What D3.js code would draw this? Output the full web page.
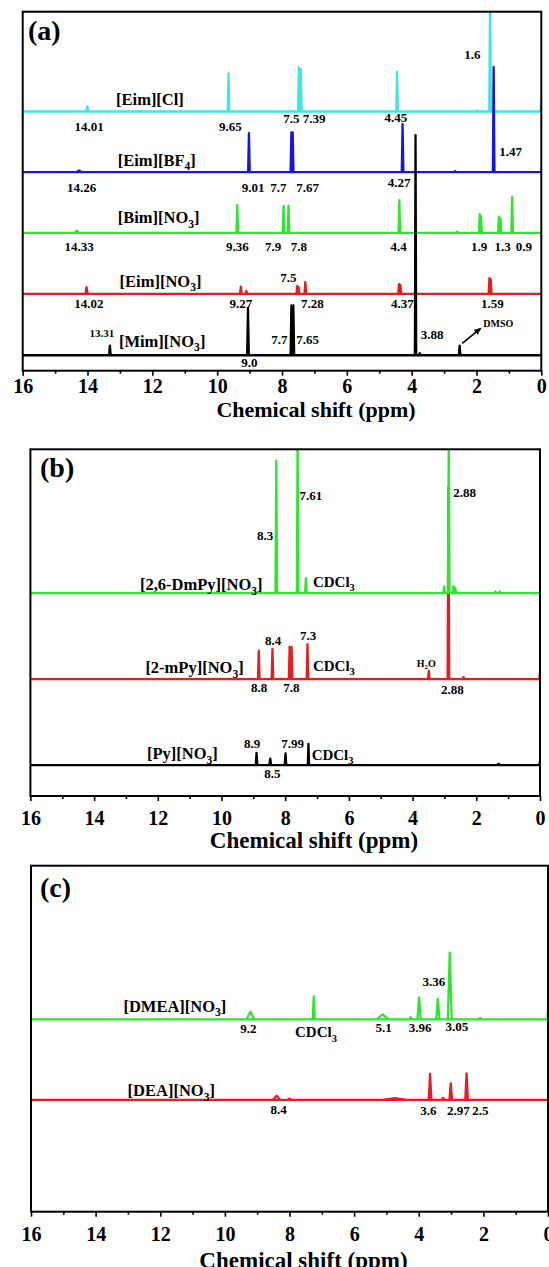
<!DOCTYPE html>
<html><head><meta charset="utf-8">
<script src="https://cdn.jsdelivr.net/npm/d3@7"></script>
<style>
html,body{margin:0;padding:0;background:#fff;}
svg{display:block;}
text{font-family:"Liberation Serif","Times New Roman",serif !important;font-weight:bold;}
</style>
</head><body>
<svg id="chart" width="549" height="1267"></svg>
<script>
// ---------- data ----------
const ppmDomain = [16, 0];
const majorTicks = [16, 14, 12, 10, 8, 6, 4, 2, 0];
const tickLabels = ["16", "14", "12", "10", "8", "6", "4", "2", "0"];
const minorTicks = [15, 13, 11, 9, 7, 5, 3, 1];
const axisTitle = "Chemical shift (ppm)";
const panelTags = ["(a)", "(b)", "(c)"];

// panel (a): [ppm, intensity, half-width(ppm)]
const seriesA = ["[Eim][Cl]", "[Eim][BF_4]", "[Bim][NO_3]", "[Eim][NO_3]", "[Mim][NO_3]"];
const offsetsA = [72.2, 55.3, 38.4, 21.4, 4.3];
const peaksEimCl = [[14.01,1.4,0.04],[9.65,10.6,0.025],[7.48,12.3,0.025],[7.42,11.8,0.025],[4.45,11.1,0.025],[1.98,0.3,0.03],[1.58,35,0.025],[0,3,0.02]];
const peaksEimBF4 = [[14.26,0.5,0.08],[9.02,10.9,0.025],[7.71,11.1,0.025],[7.67,11.1,0.025],[4.28,13.4,0.025],[2.66,0.3,0.03],[1.47,29.3,0.025]];
const peaksBimNO3 = [[14.33,0.6,0.06],[9.38,7.7,0.025],[7.95,7.5,0.025],[7.8,7.5,0.025],[4.38,9.1,0.025],[2.6,0.3,0.03],[1.9,5.2,0.025],[1.86,4.6,0.025],[1.31,4.5,0.025],[1.26,4.0,0.025],[0.9,10,0.025]];
const peaksEimNO3 = [[14.03,1.9,0.03],[9.27,2.0,0.025],[9.1,0.8,0.025],[7.53,2.2,0.025],[7.49,1.9,0.025],[7.28,3.3,0.025],[4.39,2.7,0.025],[4.35,2.5,0.025],[1.6,4.4,0.025],[1.56,4.0,0.025]];
const peaksMimNO3 = [[13.31,2.7,0.025],[9.05,13.1,0.025],[7.71,13.9,0.025],[7.65,13.9,0.025],[3.88,61.3,0.02],[3.75,0.6,0.03],[2.52,2.7,0.025]];

// panel (b)
const seriesB = ["[2,6-DmPy][NO_3]", "[2-mPy][NO_3]", "[Py][NO_3]"];
const offsetsB = [58.5, 33.7, 8.9];
const peaksDmPy = [[8.28,38.2,0.025],[7.61,45,0.025],[7.35,4.3,0.025],[3.01,1.9,0.025],[2.865,45,0.025],[2.72,2.0,0.025],[2.66,1.6,0.025],[1.4,0.5,0.03],[1.27,0.5,0.03]];
const peaksMPy = [[8.83,8.2,0.025],[8.4,8.7,0.025],[7.86,9.4,0.025],[7.8,9.2,0.025],[7.3,10.1,0.025],[3.49,2.4,0.025],[2.875,55.4,0.025],[2.4,0.6,0.03],[0,2.2,0.02]];
const peaksPy = [[8.9,3.5,0.025],[8.47,1.9,0.03],[7.99,3.4,0.025],[7.27,6.1,0.02],[1.3,0.4,0.05],[0,1.2,0.02]];

// panel (c)
const seriesC = ["[DMEA][NO_3]", "[DEA][NO_3]"];
const offsetsC = [55.6, 32.3];
const peaksDMEA = [[9.21,2.2,0.12],[7.25,6.6,0.03],[5.12,1.4,0.18],[4.25,0.6,0.05],[3.99,6.3,0.05],[3.41,5.9,0.05],[3.04,19.3,0.06],[2.1,0.4,0.05],[0,2.9,0.02]];
const peaksDEA = [[8.4,1.2,0.12],[8.0,0.4,0.04],[4.75,0.5,0.35],[3.65,7.5,0.04],[3.25,0.6,0.04],[3.01,4.8,0.04],[2.52,7.7,0.04]];

// annotations: text, ppm, intensity
const annA = [
 ["1.6",2.13,86.7,"n"],["[Eim][Cl]",13.12,73.9,"c","start"],["14.01",13.95,66.9,"n"],["9.65",9.59,66.9,"n"],
 ["7.5 7.39",7.31,68.9,"n"],["4.45",4.49,69.4,"n"],["[Eim][BF_4]",13.07,57.1,"c","start"],["1.47",1.30,59.8,"n","start"],
 ["14.26",14.18,49.9,"n"],["9.01",8.89,49.9,"n"],["7.7",8.11,49.9,"n"],["7.67",7.21,49.9,"n"],["4.27",4.39,51.3,"n"],
 ["[Bim][NO_3]",13.07,41.1,"c","start"],["14.33",14.26,33.4,"n"],["9.36",9.38,33.4,"n"],["7.9",8.27,33.4,"n"],
 ["7.8",7.48,33.4,"n"],["4.4",4.40,33.4,"n"],["1.9",1.92,33.4,"n"],["1.3",1.19,33.4,"n"],["0.9",0.54,33.4,"n"],
 ["[Eim][NO_3]",13.01,23.4,"c","start"],["7.5",7.80,24.8,"n"],["14.02",13.96,17.4,"n"],["9.27",9.27,17.4,"n"],
 ["7.28",7.06,17.4,"n"],["4.37",4.29,17.4,"n"],["1.59",1.51,17.4,"n"],["13.31",13.94,9.3,"sm","start"],
 ["[Mim][NO_3]",13.03,6.7,"c","start"],["7.7",8.08,7.4,"n"],["7.65",7.21,7.4,"n"],["3.88",3.37,8.7,"n"],
 ["DMSO",1.79,12.3,"m","start"],["9.0",9.01,1.1,"n"]
];
const arrowA = [[2.44,7.6],[1.87,11.8]];
const annB = [
 ["8.3",8.63,73.8,"n"],["7.61",7.19,85.4,"n"],["2.88",2.37,86.3,"n"],["[2,6-DmPy][NO_3]",12.56,59.4,"c","start"],
 ["CDCl_3",7.13,60.4,"s","start"],["8.4",8.38,43.6,"n"],["7.3",7.28,45.0,"n"],["[2-mPy][NO_3]",12.39,35.4,"c","start"],
 ["CDCl_3",7.13,36.1,"s","start"],["H_2O",3.87,37.3,"m","start"],["8.8",8.82,30.1,"n"],["7.8",7.81,30.1,"n"],
 ["2.88",2.75,29.4,"n"],["8.9",9.04,13.8,"n"],["7.99",7.77,13.8,"n"],["[Py][NO_3]",12.34,10.6,"c","start"],
 ["CDCl_3",7.17,10.4,"s","start"],["8.5",8.40,5.3,"n"]
];
const annC = [
 ["[DMEA][NO_3]",13.14,57.8,"c","start"],["9.2",9.27,51.6,"n"],["CDCl_3",7.83,50.4,"s","start"],["5.1",5.09,51.8,"n"],
 ["3.96",3.96,51.8,"n"],["3.05",2.82,52.3,"n"],["3.36",3.53,65.3,"n"],["[DEA][NO_3]",13.01,33.4,"c","start"],
 ["8.4",8.34,28.2,"n"],["3.6",3.70,27.9,"n"],["2.97",2.77,27.9,"n"],["2.5",2.09,27.9,"n"]
];

// ---------- layout / style ----------
const fontSizes = {c:16.5, n:13, s:15, m:10, sm:11};
const panels = [
 {L:22.7, R:541.3, T:11.7, B:370.7, pad:3, titleX:316, titleY:417, titleSize:22, tagX:28, tagY:40,
  spectra:[[peaksEimCl,offsetsA[0],"#3ee6e6"],[peaksEimBF4,offsetsA[1],"#1616dc"],[peaksBimNO3,offsetsA[2],"#2ee62e"],[peaksEimNO3,offsetsA[3],"#e81c1c"],[peaksMimNO3,offsetsA[4],"#000000"]],
  ann:annA, arrow:arrowA},
 {L:30.4, R:540, T:449.3, B:796, pad:10, titleX:314, titleY:848, titleSize:23, tagX:40, tagY:477,
  spectra:[[peaksPy,offsetsB[2],"#000000"],[peaksMPy,offsetsB[1],"#e81c1c"],[peaksDmPy,offsetsB[0],"#2ee62e"]],
  ann:annB},
 {L:31, R:548, T:865.7, B:1211.7, pad:10, titleX:303.5, titleY:1268, titleSize:23, tagX:40, tagY:897,
  spectra:[[peaksDMEA,offsetsC[0],"#2ee62e"],[peaksDEA,offsetsC[1],"#e81c1c"]],
  ann:annC}
];

const svg = d3.select("#chart");
const defs = svg.append("defs");
defs.append("marker").attr("id","arr").attr("viewBox","0 0 10 10").attr("refX",8).attr("refY",5)
  .attr("markerWidth",5).attr("markerHeight",5).attr("orient","auto")
  .append("path").attr("d","M0,1 L9,5 L0,9 Z").attr("fill","#000");

function addRich(textSel, str, size){
  const parts = str.split(/_(\w)/);
  let sub = false;
  parts.forEach((p,i)=>{
    if(i%2===1){
      textSel.append("tspan").attr("font-size", size*0.7).attr("dy", size*0.28).text(p);
      sub = true;
    } else if(p.length){
      const t = textSel.append("tspan").text(p);
      if(sub){ t.attr("dy", -size*0.28); sub=false; }
    }
  });
}

panels.forEach((cfg, pi)=>{
  const x = d3.scaleLinear().domain(ppmDomain).range([cfg.L, cfg.R]);
  const y = d3.scaleLinear().domain([0,100]).range([cfg.B, cfg.T]);
  const g = svg.append("g");
  const clipId = "clip"+pi;
  defs.append("clipPath").attr("id",clipId).append("rect")
    .attr("x",cfg.L).attr("y",cfg.T).attr("width",cfg.R-cfg.L).attr("height",cfg.B-cfg.T);
  const plot = g.append("g").attr("clip-path",`url(#${clipId})`);
  const line = d3.line().x(d=>x(d[0])).y(d=>y(d[1]));

  cfg.spectra.forEach(([peaks, off, color])=>{
    const sg = plot.append("g").attr("fill","none").attr("stroke",color)
      .attr("stroke-width",2.3).attr("stroke-linejoin","round");
    sg.append("path").attr("d", line([[ppmDomain[0],off],[ppmDomain[1],off]]));
    sg.selectAll("path.pk").data(peaks).join("path").attr("class","pk")
      .attr("d", d=>line([[d[0]+d[2],off],[d[0],off+d[1]],[d[0]-d[2],off]]));
  });

  if(cfg.arrow){
    g.append("path").attr("d", line(cfg.arrow)).attr("stroke","#000").attr("stroke-width",1.6)
      .attr("fill","none").attr("marker-end","url(#arr)");
  }

  cfg.ann.forEach(([t,px,py,k,anchor])=>{
    const size = fontSizes[k];
    const txt = g.append("text").attr("x",x(px)).attr("y",y(py))
      .attr("font-size",size).attr("text-anchor",anchor||"middle").attr("fill","#000");
    addRich(txt, t, size);
  });

  // axes
  const major = d3.axisBottom(x).tickValues(majorTicks).tickFormat((d,i)=>tickLabels[i])
    .tickSize(5).tickPadding(cfg.pad);
  const minor = d3.axisBottom(x).tickValues(minorTicks).tickFormat("").tickSize(3);
  const ga = g.append("g").attr("transform",`translate(0,${cfg.B})`).call(major);
  ga.select(".domain").remove();
  ga.selectAll("line").attr("stroke","#000").attr("stroke-width",1.6);
  ga.selectAll("text").attr("font-size",20).attr("fill","#000");
  const gm = g.append("g").attr("transform",`translate(0,${cfg.B})`).call(minor);
  gm.select(".domain").remove();
  gm.selectAll("line").attr("stroke","#000").attr("stroke-width",1.6);

  g.append("rect").attr("x",cfg.L).attr("y",cfg.T).attr("width",cfg.R-cfg.L).attr("height",cfg.B-cfg.T)
    .attr("fill","none").attr("stroke","#000").attr("stroke-width",2);

  g.append("text").attr("x",cfg.titleX).attr("y",cfg.titleY).attr("text-anchor","middle")
    .attr("font-size",cfg.titleSize).attr("fill","#000").text(axisTitle);
  g.append("text").attr("x",cfg.tagX).attr("y",cfg.tagY).attr("font-size",28).attr("fill","#000").text(panelTags[pi]);
});
</script>
</body></html>
